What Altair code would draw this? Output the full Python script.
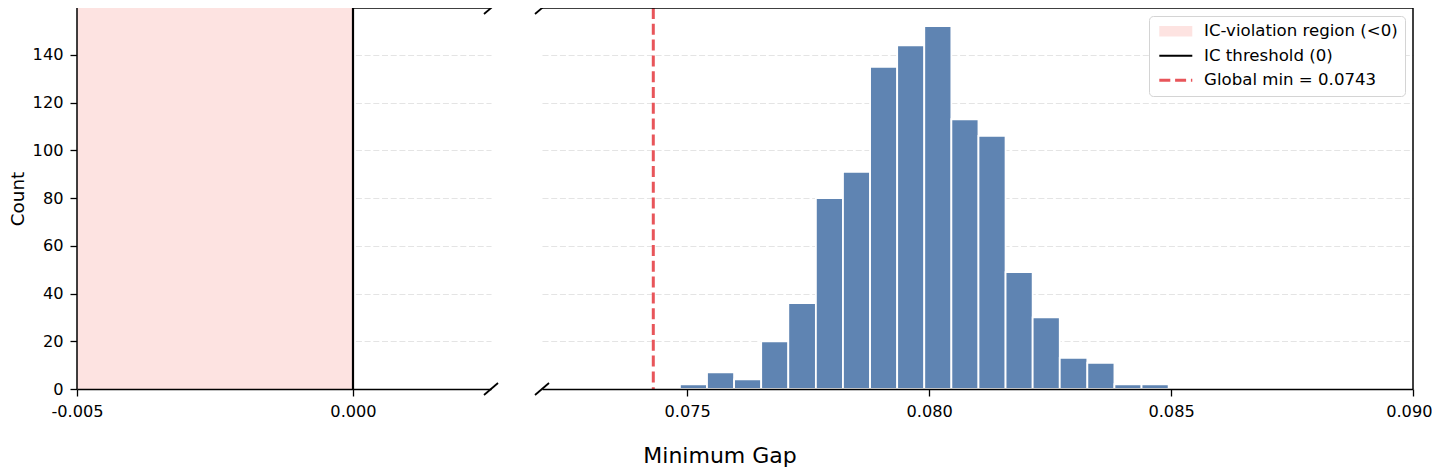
import altair as alt
import pandas as pd

FONT = "DejaVu Sans"

# ---- data ----
bin_edges = [0.07485, 0.07541, 0.07597, 0.07653, 0.07709, 0.07766, 0.07822,
             0.07878, 0.07934, 0.07990, 0.08046, 0.08102, 0.08158, 0.08214,
             0.08270, 0.08327, 0.08383, 0.08439, 0.08495]
counts = [2, 7, 4, 20, 36, 80, 91, 135, 144, 152, 113, 106, 49, 30, 13, 11, 2, 2]

left_xlim = [-0.005, 0.0025]
right_xlim = [0.072, 0.090]
left_xticks = [-0.005, 0.0]
right_xticks = [0.075, 0.080, 0.085, 0.090]
y_ticks = [0, 20, 40, 60, 80, 100, 120, 140]

violation_region = [-0.005, 0.0]
ic_threshold = 0.0
global_min = 0.0743

legend_labels = ["IC-violation region (<0)", "IC threshold (0)", "Global min = 0.0743"]
legend_colors = ["#FDE3E1", "#000000", "#E8555A"]

BAR_COLOR = "#5F84B2"
GRID_COLOR = "#E4E4E4"

y_max = 1.05 * max(counts)

# ---- tables ----
hist = pd.DataFrame({"x0": bin_edges[:-1], "x1": bin_edges[1:], "count": counts})
region = pd.DataFrame({"x0": [violation_region[0]], "x1": [violation_region[1]]})
thr = pd.DataFrame({"x": [ic_threshold]})
gmin = pd.DataFrame({"x": [global_min]})
top = pd.DataFrame({"y": [y_max]})
left_edge = pd.DataFrame({"x": [left_xlim[0]]})
right_edge = pd.DataFrame({"x": [right_xlim[1]]})
left_breaks = pd.DataFrame({"bx": [left_xlim[1]] * 2, "by": [0, y_max]})
right_breaks = pd.DataFrame({"bx": [right_xlim[0]] * 2, "by": [0, y_max]})
legend_df = pd.DataFrame({"label": legend_labels, "x": [right_xlim[1] * 2] * 3, "y": [50] * 3})

# ---- scales & axes ----
yscale = alt.Scale(domain=[0, y_max], nice=False, zero=True)
lx = alt.Scale(domain=left_xlim, nice=False, zero=False)
rx = alt.Scale(domain=right_xlim, nice=False, zero=False)

common_x_axis = dict(grid=False, domain=True, domainColor="black", domainWidth=1.5,
                     ticks=True, tickSize=7, tickWidth=1.3, tickColor="black",
                     labelPadding=7, labelFontSize=16.2, labelColor="black",
                     labelOverlap=False, zindex=1)

left_x_axis = alt.Axis(values=left_xticks, title=None, labelFlush=False,
                       labelExpr="datum.value < 0 ? '-' + format(-datum.value, '.3f') : format(datum.value, '.3f')",
                       **common_x_axis)
right_x_axis = alt.Axis(values=right_xticks, title=None, format=".3f",
                        labelFlush=True, labelFlushOffset=19, **common_x_axis)

left_y_axis = alt.Axis(values=y_ticks, grid=True, gridColor=GRID_COLOR, gridDash=[6, 2.7],
                       gridWidth=1.2, domain=False, ticks=True, tickSize=7, tickWidth=1.3,
                       tickColor="black", labelPadding=7, labelFontSize=16.2,
                       labelColor="black", title="Count", titleFontSize=18.3,
                       titleFontWeight="normal", titleColor="black", titlePadding=5)
right_y_axis = alt.Axis(values=y_ticks, grid=True, gridColor=GRID_COLOR, gridDash=[6, 2.7],
                        gridWidth=1.2, domain=False, ticks=False, labels=False, title=None)

W_LEFT, W_RIGHT, H = 414, 871, 381

# ---- left panel ----
l_top = alt.Chart(top).mark_rule(color="black", strokeWidth=1.5).encode(
    y=alt.Y("y:Q", scale=yscale, axis=left_y_axis))
l_region = alt.Chart(region).mark_rect(color=legend_colors[0]).encode(
    x=alt.X("x0:Q", scale=lx, axis=left_x_axis), x2="x1:Q")
l_thr = alt.Chart(thr).mark_rule(color="black", strokeWidth=2.2).encode(
    x=alt.X("x:Q", scale=lx))
l_edge = alt.Chart(left_edge).mark_rule(color="black", strokeWidth=1.5).encode(
    x=alt.X("x:Q", scale=lx))
l_breaks = alt.Chart(left_breaks).mark_rule(
    color="black", strokeWidth=1.8, xOffset=-7, x2Offset=7, yOffset=6, y2Offset=-6).encode(
    x=alt.X("bx:Q", scale=lx), x2="bx:Q", y=alt.Y("by:Q", scale=yscale), y2="by:Q")

left = alt.layer(l_top, l_region, l_thr, l_edge, l_breaks).properties(width=W_LEFT, height=H)

# ---- right panel ----
r_bars = alt.Chart(hist).mark_rect(color=BAR_COLOR, stroke="white", strokeWidth=1.8).encode(
    x=alt.X("x0:Q", scale=rx, axis=right_x_axis), x2="x1:Q",
    y=alt.Y("count:Q", scale=yscale, axis=right_y_axis), y2=alt.datum(0))
r_gmin = alt.Chart(gmin).mark_rule(color=legend_colors[2], strokeWidth=3,
                                   strokeDash=[11, 4.8]).encode(x=alt.X("x:Q", scale=rx))
r_top = alt.Chart(top).mark_rule(color="black", strokeWidth=1.5).encode(
    y=alt.Y("y:Q", scale=yscale))
r_edge = alt.Chart(right_edge).mark_rule(color="black", strokeWidth=1.5).encode(
    x=alt.X("x:Q", scale=rx))
r_breaks = alt.Chart(right_breaks).mark_rule(
    color="black", strokeWidth=1.8, xOffset=-7, x2Offset=7, yOffset=6, y2Offset=-6).encode(
    x=alt.X("bx:Q", scale=rx), x2="bx:Q", y=alt.Y("by:Q", scale=yscale), y2="by:Q")

# legend symbol shapes (path units: 5 px each with symbolSize 100)
sym_expr = (
    "datum.value === 'IC-violation region (<0)' ? 'M-3.3,-1.06H3.3V1.06H-3.3Z' : "
    "datum.value === 'IC threshold (0)' ? 'M-3.3,-0.2H3.3V0.2H-3.3Z' : "
    "'M-3.3,-0.3H-1.1V0.3H-3.3Z M-0.14,-0.3H2.06V0.3H-0.14Z M3.02,-0.3H3.3V0.3H3.02Z'"
)

r_legend = alt.Chart(legend_df).mark_point(filled=True, clip=True, size=30).encode(
    x=alt.X("x:Q", scale=rx),
    y=alt.Y("y:Q", scale=yscale),
    color=alt.Color("label:N",
                    scale=alt.Scale(domain=legend_labels, range=legend_colors),
                    legend=alt.Legend(title=None, orient="top-right", offset=8, padding=7,
                                      labelFontSize=16.6, labelColor="black", labelLimit=400,
                                      labelOffset=20, rowPadding=7.5,
                                      symbolType={"expr": sym_expr}, symbolSize=100,
                                      symbolOffset=11.5,
                                      symbolStrokeWidth=0, symbolOpacity=1,
                                      strokeColor="#D4D4D4", fillColor="white",
                                      cornerRadius=4)))

right = alt.layer(r_bars, r_gmin, r_top, r_edge, r_breaks, r_legend).properties(
    width=W_RIGHT, height=H)

chart = alt.hconcat(
    left, right, spacing=51, bounds="flush",
    title=alt.TitleParams("Minimum Gap", orient="bottom", anchor="middle", fontSize=22,
                          fontWeight="normal", color="black", offset=27, font=FONT),
).resolve_scale(color="independent").resolve_legend(color="independent").properties(
    padding={"left": 0, "top": -7, "right": 0, "bottom": 0}
).configure(font=FONT).configure_view(strokeWidth=0)

chart.save("out.html", embed_options={"renderer": "svg", "actions": False})
